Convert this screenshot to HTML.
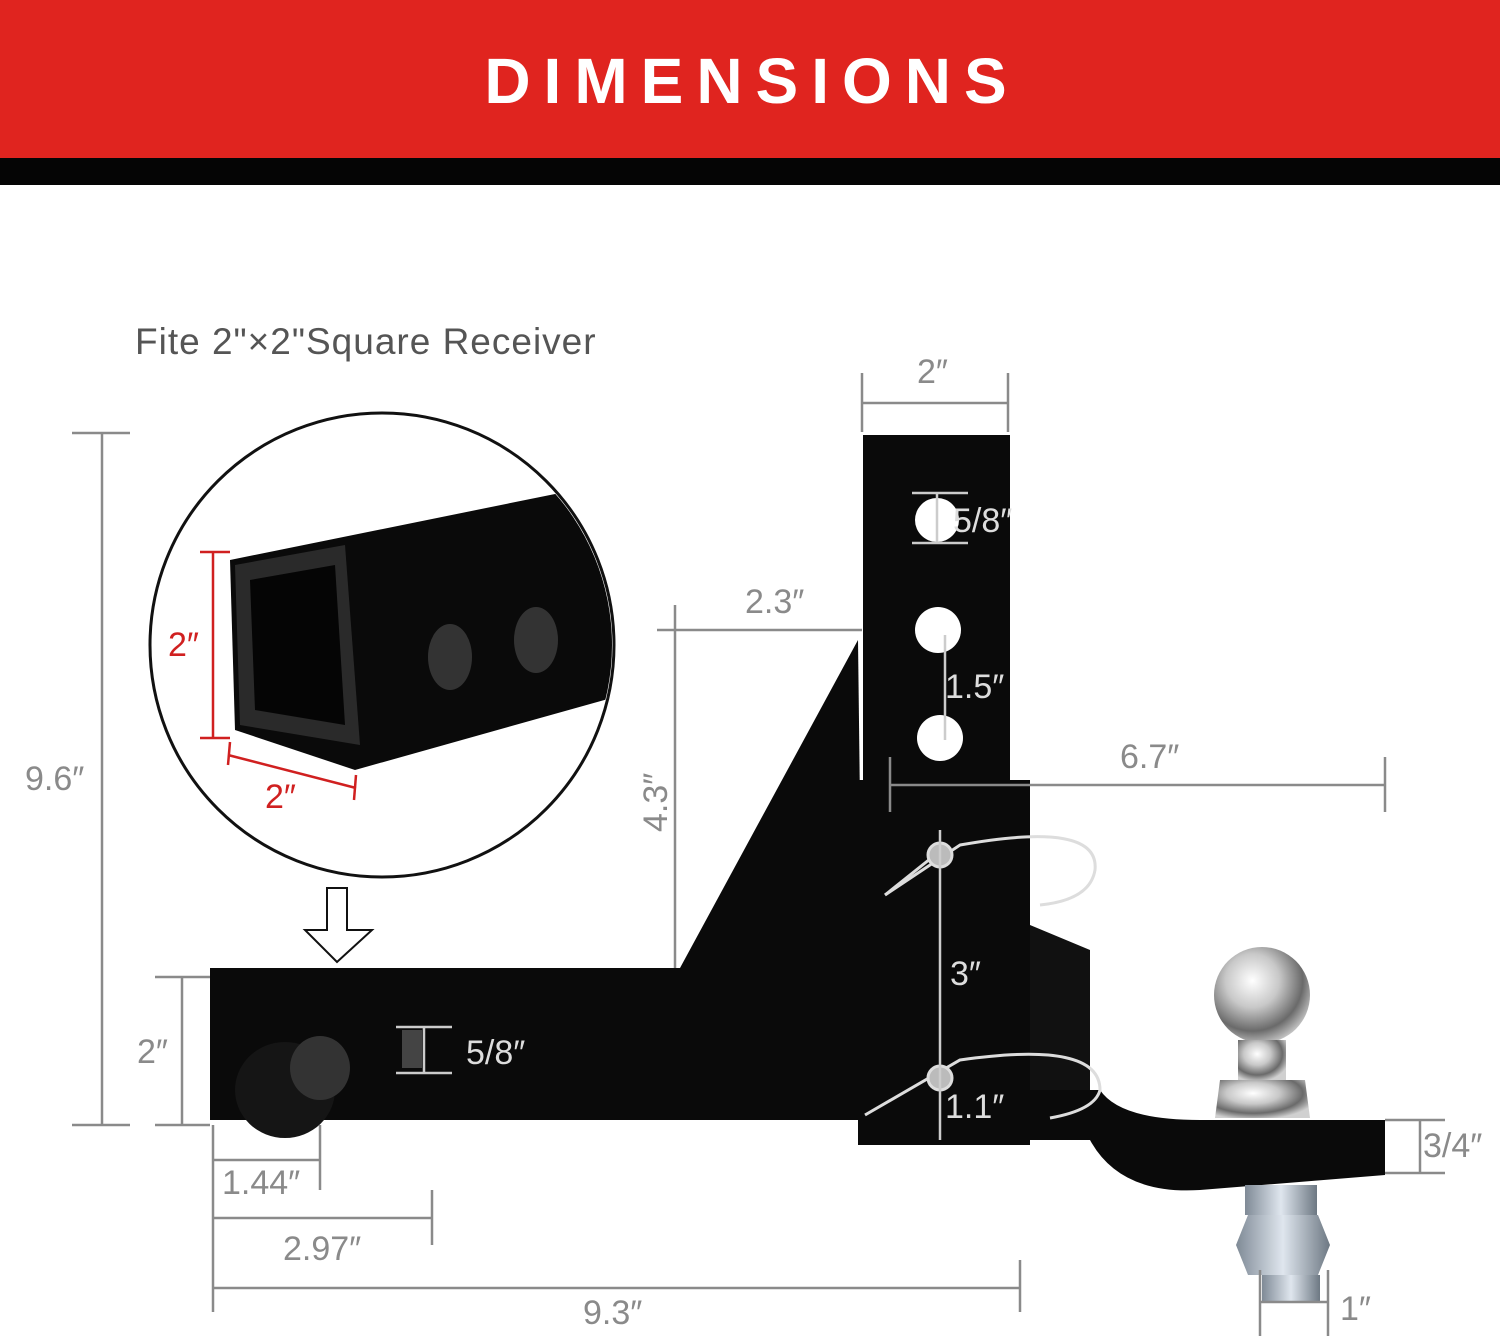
<!DOCTYPE html>
<html><head><meta charset="utf-8">
<style>
html,body{margin:0;padding:0;background:#fff;}
body{width:1500px;height:1338px;overflow:hidden;position:relative;font-family:"Liberation Sans",sans-serif;}
</style></head>
<body>
<svg width="1500" height="1338" viewBox="0 0 1500 1338" xmlns="http://www.w3.org/2000/svg" style="position:absolute;left:0;top:0">
<defs>
<radialGradient id="chrome" cx="0.4" cy="0.35" r="0.7">
<stop offset="0" stop-color="#ffffff"/><stop offset="0.4" stop-color="#c8c8c8"/><stop offset="0.75" stop-color="#6a6a6a"/><stop offset="1" stop-color="#d0d0d0"/>
</radialGradient>
<linearGradient id="zinc" x1="0" x2="1">
<stop offset="0" stop-color="#7f8a96"/><stop offset="0.5" stop-color="#dfe6ee"/><stop offset="1" stop-color="#6d7883"/>
</linearGradient>
<clipPath id="cc"><circle cx="382" cy="645" r="230"/></clipPath>
</defs>
<rect x="0" y="0" width="1500" height="158" fill="#e0241f"/>
<rect x="0" y="158" width="1500" height="27" fill="#050505"/>
<text x="752" y="103" text-anchor="middle" font-size="64" font-weight="bold" fill="#fff" letter-spacing="13">DIMENSIONS</text>

<text x="135" y="354" font-size="37" fill="#555" letter-spacing="1">Fite 2"×2"Square Receiver</text>

<!-- circle inset -->
<circle cx="382" cy="645" r="232" fill="#fff" stroke="#111" stroke-width="3"/>
<g clip-path="url(#cc)">
<polygon points="230,560 560,493 640,540 640,690 355,770 235,730" fill="#0a0a0a"/>
<polygon points="235,565 345,545 360,745 240,725" fill="#2a2a2a"/>
<polygon points="250,580 335,565 345,725 255,710" fill="#050505"/>
<ellipse cx="450" cy="657" rx="22" ry="33" fill="#333"/>
<ellipse cx="536" cy="640" rx="22" ry="33" fill="#333"/>
</g>
<g stroke="#d02020" stroke-width="2.5" fill="none">
<line x1="213" y1="552" x2="213" y2="738"/><line x1="200" y1="552" x2="230" y2="552"/><line x1="200" y1="738" x2="230" y2="738"/>
<line x1="228" y1="755" x2="356" y2="788"/><line x1="230" y1="742" x2="228" y2="765"/><line x1="356" y1="775" x2="354" y2="800"/>
</g>
<text x="168" y="656" font-size="34" fill="#d02020">2″</text>
<text x="265" y="808" font-size="34" fill="#d02020">2″</text>
<polygon points="327,888 347,888 347,930 372,930 337,962 305,930 327,930" fill="#fff" stroke="#111" stroke-width="2"/>

<!-- hitch -->
<polygon points="680,968 858,640 862,968" fill="#0a0a0a"/>
<rect x="863" y="435" width="147" height="370" fill="#0a0a0a"/>
<rect x="210" y="968" width="680" height="152" fill="#0a0a0a"/>
<rect x="858" y="780" width="172" height="365" fill="#0a0a0a"/>
<polygon points="1030,925 1090,950 1090,1100 1030,1100" fill="#111"/>
<path d="M1030,1090 L1100,1090 Q1120,1120 1200,1120 L1385,1120 L1385,1175 L1200,1190 Q1120,1195 1090,1140 L1030,1140 Z" fill="#0a0a0a"/>
<circle cx="1262" cy="995" r="48" fill="url(#chrome)"/>
<rect x="1238" y="1040" width="48" height="40" fill="url(#chrome)"/>
<polygon points="1220,1080 1305,1080 1310,1118 1215,1118" fill="url(#chrome)"/>
<rect x="1245" y="1185" width="72" height="30" fill="url(#zinc)"/>
<polygon points="1248,1215 1318,1215 1330,1245 1318,1275 1248,1275 1236,1245" fill="url(#zinc)"/>
<rect x="1262" y="1275" width="58" height="28" fill="url(#zinc)"/>
<ellipse cx="285" cy="1090" rx="50" ry="48" fill="#151515"/>
<ellipse cx="320" cy="1068" rx="30" ry="32" fill="#333"/>
<circle cx="937" cy="520" r="22" fill="#fff"/>
<circle cx="938" cy="630" r="23" fill="#fff"/>
<circle cx="940" cy="738" r="23" fill="#fff"/>
<rect x="402" y="1030" width="20" height="38" fill="#444"/>
<g fill="none" stroke="#ddd" stroke-width="3">
<path d="M885,895 L960,845 Q1100,820 1095,870 Q1090,900 1040,905"/>
<path d="M885,895 L935,855"/>
<path d="M865,1115 L960,1060 Q1100,1040 1100,1090 Q1095,1110 1050,1118"/>
<circle cx="940" cy="855" r="12" fill="#bbb"/>
<circle cx="940" cy="1078" r="12" fill="#bbb"/>
</g>

<!-- dimensions -->
<g stroke="#8a8a8a" stroke-width="2.5" fill="none">
<line x1="102" y1="433" x2="102" y2="1125"/><line x1="72" y1="433" x2="130" y2="433"/><line x1="72" y1="1125" x2="130" y2="1125"/>
<line x1="862" y1="403" x2="1008" y2="403"/><line x1="862" y1="373" x2="862" y2="432"/><line x1="1008" y1="373" x2="1008" y2="432"/>
<line x1="657" y1="630" x2="862" y2="630"/><line x1="675" y1="605" x2="675" y2="968"/>
<line x1="890" y1="785" x2="1385" y2="785"/><line x1="890" y1="757" x2="890" y2="812"/><line x1="1385" y1="757" x2="1385" y2="812"/>
<line x1="182" y1="977" x2="182" y2="1125"/><line x1="155" y1="977" x2="210" y2="977"/><line x1="155" y1="1125" x2="210" y2="1125"/>
<line x1="213" y1="1125" x2="213" y2="1312"/><line x1="320" y1="1125" x2="320" y2="1190"/><line x1="213" y1="1160" x2="320" y2="1160"/>
<line x1="213" y1="1218" x2="432" y2="1218"/><line x1="432" y1="1190" x2="432" y2="1245"/>
<line x1="213" y1="1288" x2="1020" y2="1288"/><line x1="1020" y1="1260" x2="1020" y2="1312"/>
<line x1="1420" y1="1120" x2="1420" y2="1173"/><line x1="1385" y1="1120" x2="1445" y2="1120"/><line x1="1385" y1="1173" x2="1445" y2="1173"/>
<line x1="1260" y1="1270" x2="1260" y2="1336"/><line x1="1328" y1="1270" x2="1328" y2="1336"/><line x1="1260" y1="1302" x2="1328" y2="1302"/>
</g>
<g stroke="#ccc" stroke-width="2.5">
<line x1="912" y1="493" x2="968" y2="493"/><line x1="912" y1="543" x2="968" y2="543"/><line x1="937" y1="493" x2="937" y2="543"/>
<line x1="945" y1="635" x2="945" y2="740"/>
<line x1="940" y1="830" x2="940" y2="1140"/>
<line x1="396" y1="1027" x2="452" y2="1027"/><line x1="396" y1="1073" x2="452" y2="1073"/><line x1="424" y1="1027" x2="424" y2="1073"/>
</g>
<g font-size="34" fill="#8a8a8a">
<text x="25" y="790">9.6″</text>
<text x="917" y="383">2″</text>
<text x="745" y="613">2.3″</text>
<text x="1120" y="768">6.7″</text>
<text x="137" y="1063">2″</text>
<text x="222" y="1194">1.44″</text>
<text x="283" y="1260">2.97″</text>
<text x="583" y="1324">9.3″</text>
<text x="1423" y="1157">3/4″</text>
<text x="1340" y="1320">1″</text>
<text transform="translate(667,832) rotate(-90)">4.3″</text>
</g>
<g font-size="34" fill="#ddd">
<text x="953" y="532">5/8″</text>
<text x="945" y="698">1.5″</text>
<text x="950" y="985">3″</text>
<text x="945" y="1118">1.1″</text>
<text x="466" y="1064">5/8″</text>
</g>
</svg>
</body></html>
